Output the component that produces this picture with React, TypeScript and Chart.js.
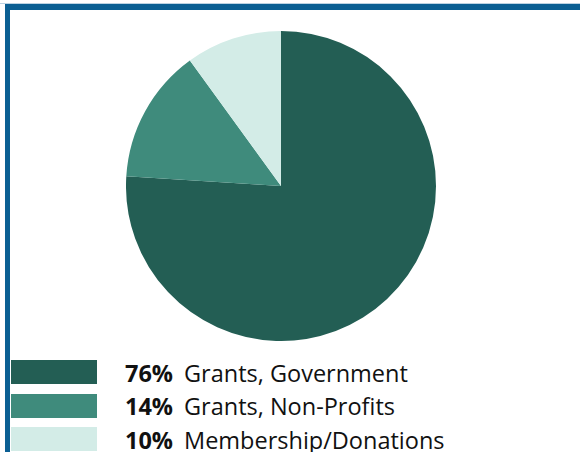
import React, { useEffect, useRef } from "react";
import { Chart, registerables } from "chart.js";

Chart.register(...registerables);

const categories = ["Grants, Government", "Grants, Non-Profits", "Membership/Donations"];
const values = [76, 14, 10];
const percentLabels = ["76%", "14%", "10%"];
const colors = ["#235e54", "#3f8b7c", "#d3ece7"];

export default function App() {
  const canvasRef = useRef<HTMLCanvasElement | null>(null);

  useEffect(() => {
    document.body.style.margin = "0";
    const ctx = canvasRef.current;
    if (!ctx) return;
    const chart = new Chart(ctx, {
      type: "pie",
      data: {
        labels: categories,
        datasets: [
          {
            data: values,
            backgroundColor: colors,
            borderWidth: 0,
          },
        ],
      },
      options: {
        animation: false,
        responsive: false,
        maintainAspectRatio: false,
        layout: { padding: 0 },
        plugins: {
          legend: { display: false },
          tooltip: { enabled: false },
        },
      },
    });
    return () => chart.destroy();
  }, []);

  return (
    <div
      style={{
        position: "absolute",
        left: 0,
        top: 0,
        width: 580,
        height: 452,
        background: "#ffffff",
        overflow: "hidden",
        fontFamily: "'Open Sans', sans-serif",
      }}
    >
      <div
        style={{
          position: "absolute",
          left: 0,
          top: 3,
          width: 580,
          height: 1,
          background: "#bcd3e3",
        }}
      />
      <div
        style={{
          position: "absolute",
          left: 5,
          top: 4,
          width: 600,
          height: 500,
          borderTop: "6px solid #0b5f93",
          borderLeft: "5px solid #0b5f93",
        }}
      />
      <canvas
        ref={canvasRef}
        width={310}
        height={310}
        style={{ position: "absolute", left: 126, top: 31, width: 310, height: 310 }}
      />
      {categories.map((c, i) => (
        <div key={c}>
          <div
            style={{
              position: "absolute",
              left: 11,
              top: 360 + i * 33.5,
              width: 86,
              height: 24,
              background: colors[i],
            }}
          />
          <div
            style={{
              position: "absolute",
              left: 125,
              top: 357.5 + i * 33.5,
              height: 30,
              lineHeight: "30px",
              fontSize: 23.5,
              color: "#111",
              whiteSpace: "nowrap",
            }}
          >
            <span style={{ fontWeight: 700, display: "inline-block", width: 59 }}>{percentLabels[i]}</span>
            <span>{c}</span>
          </div>
        </div>
      ))}
    </div>
  );
}
